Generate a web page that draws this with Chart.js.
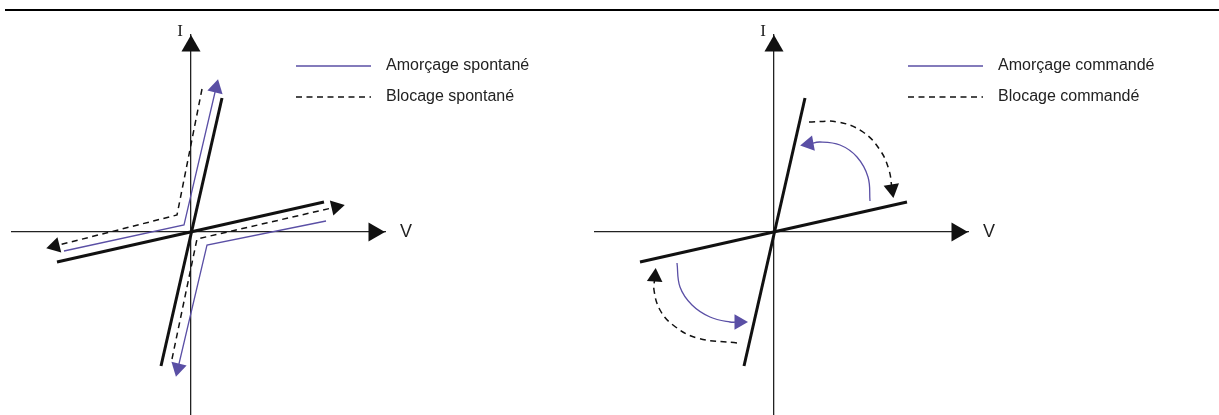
<!DOCTYPE html>
<html lang="fr">
<head>
<meta charset="utf-8">
<title>Caractéristiques I(V)</title>
<script src="https://cdn.jsdelivr.net/npm/chart.js@4.4.1/dist/chart.umd.min.js"></script>
<style>
  html, body { margin: 0; padding: 0; background: #fff; }
  #page { position: relative; width: 1219px; height: 415px; overflow: hidden; }
  #rule { position: absolute; left: 5px; right: 0; top: 9px; height: 2px; background: #000; }
  .panel { position: absolute; top: 0; height: 415px; }
  #left { left: 0; width: 583px; }
  #right { left: 583px; width: 636px; }
</style>
</head>
<body>
<div id="page">
  <div id="rule"></div>
  <div class="panel" id="left"><canvas id="chartLeft"></canvas></div>
  <div class="panel" id="right"><canvas id="chartRight"></canvas></div>
</div>
<script>
// axis ranges (same schematic units for V and I)
const vRange = [-179, 194];
const iRange = [-183, 197];
const vArrow = [[0, 0], [183, 0]];
const iArrow = [[0, 0], [0, 186]];

// the two thick characteristics (same in both panels)
const steepLine = [[-30, -134], [31, 134]];
const shallowLine = [[-134, -30], [133, 30]];

// left panel : spontané
const spontAmorcageUp = [[-127, -19], [-7, 7], [25, 144]];
const spontAmorcageDown = [[135, 11], [16, -13], [-13, -136]];
const spontBlocageUp = [[11, 143], [-14, 17], [-136, -14]];
const spontBlocageDown = [[-19, -127], [6, -7], [145, 25]];

// right panel : commandé
const cmdAmorcageUp = [[96, 31], [94, 55], [83, 75], [66, 87], [46, 90], [35, 88]];
const cmdAmorcageDown = [[-97, -31], [-94, -55], [-82, -73], [-64, -85], [-44, -90], [-35, -90]];
const cmdBlocageUp = [[35, 110], [64, 110], [89, 100], [106, 82], [115, 62], [118, 43]];
const cmdBlocageDown = [[-37, -111], [-77, -106], [-101, -93], [-114, -78], [-120, -58], [-119, -45]];

const PURPLE = '#5a4fa5';
const INK = '#111';
const DASH = [6, 4.5];

const pts = arr => arr.map(([x, y]) => ({ x, y }));
const isLast = c => c.dataIndex === c.dataset.data.length - 1;

// point the triangle along the last segment
function arrowRot(c) {
  const d = c.dataset.data, i = c.dataIndex;
  if (i === 0) return 0;
  const p = d[i - 1], q = d[i];
  return Math.atan2(q.x - p.x, q.y - p.y) * 180 / Math.PI;
}

function thick(data) {
  return { data: pts(data), showLine: true, borderColor: INK, borderWidth: 3, pointRadius: 0, clip: false };
}

function path(label, data, color, dash, tension) {
  return {
    label, data: pts(data), showLine: true, clip: false,
    borderColor: color, borderWidth: dash.length ? 1.5 : 1.3, borderDash: dash, tension,
    pointStyle: 'triangle', pointRadius: c => isLast(c) ? 9 : 0, pointRotation: arrowRot,
    pointBackgroundColor: color, pointBorderWidth: 0
  };
}

function axisArrow(data) {
  return {
    data: pts(data), showLine: false, clip: false,
    pointStyle: 'triangle', pointRadius: c => isLast(c) ? 11 : 0, pointRotation: arrowRot,
    pointBackgroundColor: INK, pointBorderWidth: 0
  };
}

// axis names + legend drawn on the canvas
const diagramText = {
  id: 'diagramText',
  afterDraw(chart, args, opts) {
    const { ctx, scales: { x, y } } = chart;
    const ox = x.getPixelForValue(0), oy = y.getPixelForValue(0);
    ctx.save();
    ctx.fillStyle = '#222';
    ctx.textBaseline = 'middle';
    ctx.textAlign = 'center';
    ctx.font = '17px "Liberation Serif"';
    ctx.fillText(opts.yName, ox - 11, y.getPixelForValue(y.max) - 3);
    ctx.font = '18px "Liberation Sans"';
    ctx.fillText(opts.xName, x.getPixelForValue(x.max) + 21, oy);

    const seen = new Set();
    let row = 0;
    ctx.textAlign = 'left';
    ctx.font = '16px "Liberation Sans"';
    chart.data.datasets.forEach(ds => {
      if (!ds.label || seen.has(ds.label)) return;
      seen.add(ds.label);
      const ly = opts.legendY + row * 31;
      ctx.save();
      ctx.strokeStyle = ds.borderColor;
      ctx.lineWidth = 1.3;
      ctx.setLineDash(ds.borderDash || []);
      ctx.beginPath();
      ctx.moveTo(opts.legendX, ly);
      ctx.lineTo(opts.legendX + 75, ly);
      ctx.stroke();
      ctx.restore();
      ctx.fillText(ds.label, opts.legendX + 90, ly);
      row++;
    });
    ctx.restore();
  }
};

function makeChart(id, width, datasets, legendX) {
  const axisOpts = {
    type: 'linear',
    grid: { display: false, drawTicks: false, tickLength: 0 },
    ticks: { display: false, padding: 0 },
    border: { display: true, color: '#222', width: 1.3 }
  };
  return new Chart(document.getElementById(id), {
    type: 'scatter',
    data: { datasets },
    options: {
      responsive: true,
      maintainAspectRatio: false,
      animation: false,
      events: [],
      layout: { autoPadding: false, padding: { left: 12, right: width - 385, top: 35, bottom: 0 } },
      scales: {
        x: { ...axisOpts, min: vRange[0], max: vRange[1], position: { y: 0 } },
        y: { ...axisOpts, min: iRange[0], max: iRange[1], position: { x: 0 } }
      },
      plugins: {
        legend: { display: false },
        tooltip: { enabled: false },
        diagramText: { xName: 'V', yName: 'I', legendX, legendY: 66 }
      }
    },
    plugins: [diagramText]
  });
}

makeChart('chartLeft', 583, [
  thick(steepLine),
  thick(shallowLine),
  path('Amorçage spontané', spontAmorcageUp, PURPLE, [], 0),
  path('Amorçage spontané', spontAmorcageDown, PURPLE, [], 0),
  path('Blocage spontané', spontBlocageUp, INK, DASH, 0),
  path('Blocage spontané', spontBlocageDown, INK, DASH, 0),
  axisArrow(vArrow),
  axisArrow(iArrow)
], 296);

makeChart('chartRight', 636, [
  thick(steepLine),
  thick(shallowLine),
  path('Amorçage commandé', cmdAmorcageUp, PURPLE, [], 0.4),
  path('Amorçage commandé', cmdAmorcageDown, PURPLE, [], 0.4),
  path('Blocage commandé', cmdBlocageUp, INK, DASH, 0.4),
  path('Blocage commandé', cmdBlocageDown, INK, DASH, 0.4),
  axisArrow(vArrow),
  axisArrow(iArrow)
], 325);
</script>
</body>
</html>
